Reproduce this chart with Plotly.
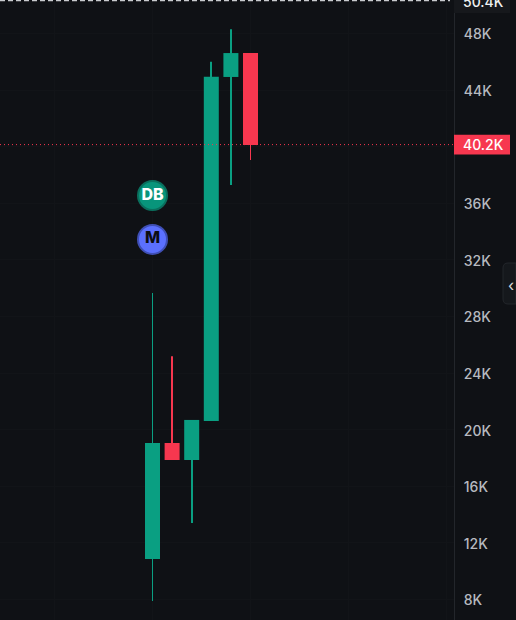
import plotly.graph_objects as go

# Candle data, in thousands
candle_index = [0, 1, 2, 3, 4, 5]
opens = [10.86, 19.06, 17.86, 20.62, 44.93, 46.62]
highs = [29.66, 25.2, 20.69, 46.0, 48.3, 46.62]
lows = [7.9, 17.86, 13.4, 20.62, 37.3, 39.06]
closes = [19.06, 17.86, 20.69, 44.95, 46.62, 40.12]

tick_values = [8, 12, 16, 20, 24, 28, 32, 36, 40, 44, 48]
tick_labels = ["8K", "12K", "16K", "20K", "24K", "28K", "32K", "36K", "", "44K", "48K"]

last_price = 40.15
last_label = "40.2K"
top_price = 50.37
top_label = "50.4K"

marker_x = [0, 0]
marker_y = [36.55, 33.45]
marker_text = ["DB", "M"]

GREEN = "#0A9F82"
RED = "#F7374F"
BG = "#0F1115"
AXIS_W = 454
STEP = 19.6
FONT = "Inter"

colors = [GREEN if c >= o else RED for o, c in zip(opens, closes)]
body_base = [min(o, c) for o, c in zip(opens, closes)]
body_size = [abs(c - o) for o, c in zip(opens, closes)]
wick_size = [h - l for h, l in zip(highs, lows)]

fig = go.Figure()
fig.add_trace(go.Bar(
    x=candle_index, y=wick_size, base=lows, width=0.9 / STEP,
    marker=dict(color=colors, line=dict(width=0)), hoverinfo="skip", showlegend=False,
))
fig.add_trace(go.Bar(
    x=candle_index, y=body_size, base=body_base, width=15 / STEP,
    marker=dict(color=colors, line=dict(width=0)), hoverinfo="skip", showlegend=False,
))
fig.add_trace(go.Scatter(
    x=marker_x, y=marker_y, mode="markers+text", text=marker_text,
    textposition="middle center",
    textfont=dict(family=FONT, size=16, color=["#FFFFFF", "#0B0D12"], weight=800),
    marker=dict(size=29, color=["#08957B", "#5B70FF"],
                line=dict(width=2, color=["#0A6F5D", "#3F4FB5"])),
    hoverinfo="skip", showlegend=False,
))

fig.update_layout(
    width=516, height=620, autosize=False,
    margin=dict(l=0, r=62, t=0, b=0),
    paper_bgcolor=BG, plot_bgcolor=BG,
    barmode="overlay",
    font=dict(family=FONT, size=14, color="#B4B7BD"),
    showlegend=False,
    xaxis=dict(range=[-152.5 / STEP, 301.5 / STEP], showticklabels=False, ticks="",
               showgrid=True, gridcolor="#121418", dtick=5, zeroline=False,
               fixedrange=True),
    yaxis=dict(range=[6.55, 50.37], side="right", tickvals=tick_values,
               ticktext=tick_labels, showgrid=True, gridcolor="#121418",
               zeroline=False, ticks="outside", ticklen=6,
               tickcolor="rgba(0,0,0,0)", showline=True, linecolor="#23262B",
               linewidth=1, automargin=False, fixedrange=True, ticklabelshift=1,
               tickfont=dict(family=FONT, size=14, color="#B7BAC0", weight=500)),
    shapes=[
        dict(type="line", xref="paper", yref="y", x0=0, x1=1, y0=last_price, y1=last_price,
             line=dict(color=RED, width=1, dash="1px,3px")),
        dict(type="line", xref="paper", yref="y", x0=0, x1=450 / AXIS_W, y0=50.34, y1=50.34,
             line=dict(color="#C9CBCF", width=1.5, dash="5px,3px")),
        dict(type="rect", xref="paper", yref="y", x0=1, x1=510 / AXIS_W, y0=39.45, y1=40.85,
             fillcolor=RED, line=dict(width=0)),
        dict(type="rect", xref="paper", yref="y", x0=1, x1=510 / AXIS_W, y0=49.45, y1=50.37,
             fillcolor="#16181C", line=dict(width=0)),
        dict(type="path", xref="paper", yref="paper",
             path=f"M {516/AXIS_W} {1-263/620} L {508/AXIS_W} {1-263/620} "
                  f"Q {503/AXIS_W} {1-263/620} {503/AXIS_W} {1-268/620} "
                  f"L {503/AXIS_W} {1-299/620} Q {503/AXIS_W} {1-304/620} {508/AXIS_W} {1-304/620} "
                  f"L {516/AXIS_W} {1-304/620} Z",
             fillcolor="#15181C", line=dict(color="#23262B", width=1)),
    ],
    annotations=[
        dict(xref="paper", yref="y", x=461 / AXIS_W, y=last_price, text=last_label,
             xanchor="left", yanchor="middle", showarrow=False,
             font=dict(family=FONT, size=14, color="#FFFFFF", weight=500)),
        dict(xref="paper", yref="y", x=461 / AXIS_W, y=50.25, text=top_label,
             xanchor="left", yanchor="middle", showarrow=False,
             font=dict(family=FONT, size=14, color="#F0F1F2", weight=500)),
        dict(xref="paper", yref="paper", x=511 / AXIS_W, y=1 - 285 / 620, text="‹",
             xanchor="center", yanchor="middle", showarrow=False,
             font=dict(family=FONT, size=16, color="#D8DADD")),
    ],
)
fig.write_html("out.html", config={"displayModeBar": False},
               post_script="document.body.style.margin='0';document.body.style.background='#0F1115';")
